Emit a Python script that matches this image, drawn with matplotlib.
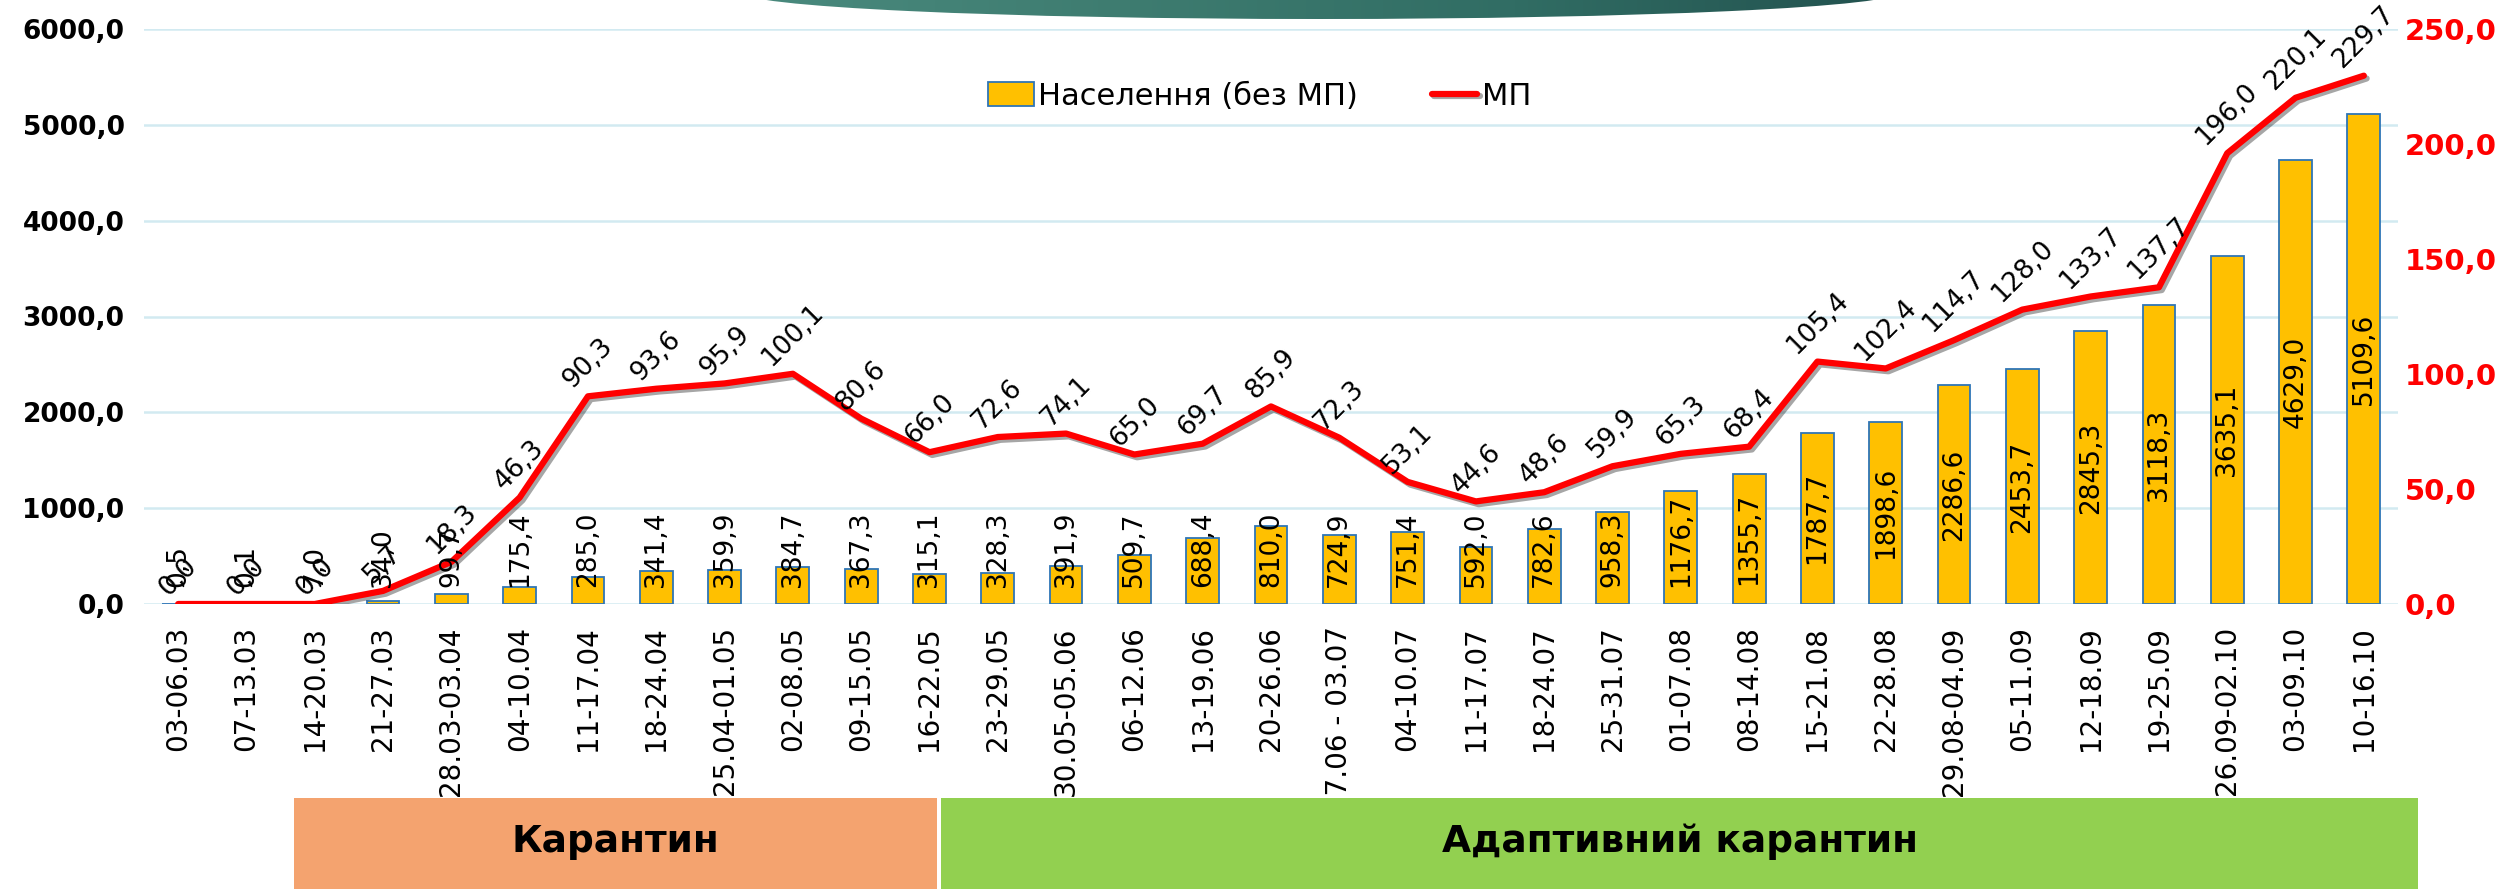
import matplotlib
matplotlib.use('Agg')
import matplotlib.pyplot as plt
import matplotlib.patheffects as pe
from matplotlib.colors import LinearSegmentedColormap
from matplotlib.patches import Ellipse, Rectangle
from matplotlib.ticker import FuncFormatter
import numpy as np

plt.rcParams['font.family'] = ['DejaVu Sans']

weeks = ['03-06.03', '07-13.03', '14-20.03', '21-27.03', '28.03-03.04', '04-10.04',
         '11-17.04', '18-24.04', '25.04-01.05', '02-08.05', '09-15.05', '16-22.05',
         '23-29.05', '30.05-05.06', '06-12.06', '13-19.06', '20-26.06', '27.06 - 03.07',
         '04-10.07', '11-17.07', '18-24.07', '25-31.07', '01-07.08', '08-14.08',
         '15-21.08', '22-28.08', '29.08-04.09', '05-11.09', '12-18.09', '19-25.09',
         '26.09-02.10', '03-09.10', '10-16.10']

population = [0.5, 0.1, 7.0, 34.0, 99.7, 175.4, 285.0, 341.4, 359.9, 384.7, 367.3, 315.1,
              328.3, 391.9, 509.7, 688.4, 810.0, 724.9, 751.4, 592.0, 782.6, 958.3,
              1176.7, 1355.7, 1787.7, 1898.6, 2286.6, 2453.7, 2845.3, 3118.3, 3635.1,
              4629.0, 5109.6]

medics = [0.0, 0.0, 0.0, 5.7, 18.3, 46.3, 90.3, 93.6, 95.9, 100.1, 80.6, 66.0,
          72.6, 74.1, 65.0, 69.7, 85.9, 72.3, 53.1, 44.6, 48.6, 59.9,
          65.3, 68.4, 105.4, 102.4, 114.7, 128.0, 133.7, 137.7, 196.0,
          220.1, 229.7]

periods = ['Карантин', 'Адаптивний карантин']
legend_labels = ['Населення (без МП)', 'МП']


def comma(v, pos=None):
    return f'{v:.1f}'.replace('.', ',')


W, H = 2519, 889
fig = plt.figure(figsize=(W / 100, H / 100), dpi=100)

# decorative header shape at the top
bg = fig.add_axes([0, 0, 1, 1], zorder=-1)
bg.set_xlim(0, W)
bg.set_ylim(H, 0)
bg.axis('off')
ell = Ellipse((1320, -8), 1160, 54, facecolor='none', edgecolor='none')
bg.add_patch(ell)
cmap = LinearSegmentedColormap.from_list('hdr', ['#4A8A7E', '#3E7C70', '#316D64', '#22514E'])
grad = np.linspace(0, 1, 256).reshape(1, -1)
im = bg.imshow(grad, cmap=cmap, extent=(740, 1900, 30, -40), aspect='auto')
im.set_clip_path(ell)

ax = fig.add_axes([144 / W, 1 - 604 / H, (2398 - 144) / W, (604 - 29) / H])
ax2 = ax.twinx()

x = np.arange(len(weeks))
bars = ax.bar(x, population, width=0.48, color='#FFC000', edgecolor='#2E75B6',
              linewidth=1.3, zorder=2)
ax.set_xlim(-0.5, len(weeks) - 0.5)
ax.set_ylim(0, 6000)
ax.set_yticks(range(0, 6001, 1000))
ax.yaxis.set_major_formatter(FuncFormatter(comma))
ax.grid(axis='y', color='#D2EAF1', linewidth=1.8)
ax.set_axisbelow(True)
ax.set_xticks(x)
ax.set_xticklabels(weeks, rotation=90, fontsize=20)
ax.tick_params(axis='x', length=0, pad=16)
ax.tick_params(axis='y', length=0, pad=14, labelsize=19)
for lab in ax.get_yticklabels():
    lab.set_fontweight('bold')

line, = ax2.plot(x, medics, color='#FF0000', lw=4.5, solid_capstyle='round',
                 solid_joinstyle='round',
                 path_effects=[pe.SimpleLineShadow(offset=(2, -2), alpha=0.35), pe.Normal()])
ax2.set_ylim(0, 250)
ax2.set_yticks(range(0, 251, 50))
ax2.yaxis.set_major_formatter(FuncFormatter(comma))
ax2.tick_params(axis='y', length=0, pad=5, labelsize=21, labelcolor='#FF0000')
for lab in ax2.get_yticklabels():
    lab.set_fontweight('bold')

for a in (ax, ax2):
    for s in a.spines.values():
        s.set_visible(False)

# line labels, above the points
for xi, v in zip(x, medics):
    ax2.annotate(comma(v), (xi, v), xytext=(0, 2), textcoords='offset points',
                 ha='center', va='bottom', rotation=45, fontsize=19)

# bar labels, centred in the bar but kept above the axis
bar_texts = []
for xi, v in zip(x, population):
    t = ax2.text(xi, v / 2, comma(v), transform=ax.transData, rotation=90,
                 ha='center', va='center', fontsize=19)
    bar_texts.append(t)

fig.canvas.draw()
r = fig.canvas.get_renderer()
base = ax.transData.transform((0, 0))[1]
for t in bar_texts:
    bb = t.get_window_extent(r)
    if bb.y0 < base + 17:
        cy = base + 17 + bb.height / 2
        t.set_y(ax.transData.inverted().transform((0, cy))[1])

ax2.legend([bars, line], legend_labels, loc='center', bbox_to_anchor=(0.495, 0.883),
           ncol=2, frameon=False, fontsize=22, handlelength=1.5, handleheight=0.8,
           columnspacing=2.4, handletextpad=0.15)

# period boxes under the axis
boxes = [(294, 937, '#F4A36F'), (941, 2418, '#92D050')]
for (x0, x1, col), name in zip(boxes, periods):
    fig.patches.append(Rectangle((x0 / W, 0), (x1 - x0) / W, (H - 798) / H,
                                 transform=fig.transFigure, facecolor=col,
                                 edgecolor='none', zorder=10))
    fig.text((x0 + x1) / 2 / W, 1 - 842 / H, name, ha='center', va='center',
             fontsize=27, fontweight='bold', zorder=11)

fig.savefig('out.png', dpi=100)
